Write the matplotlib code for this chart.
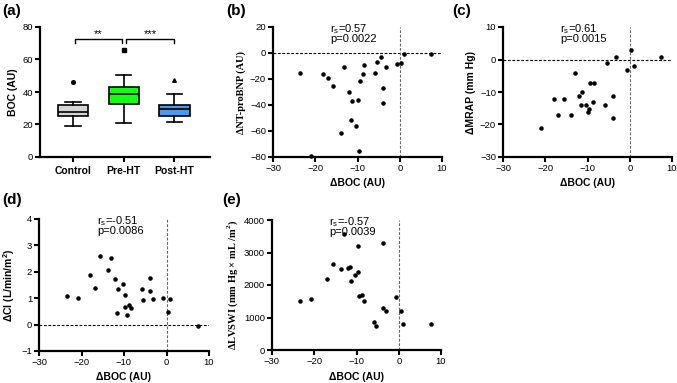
import matplotlib
matplotlib.use("Agg")
import matplotlib.pyplot as plt
import numpy as np

plt.rcParams['font.family'] = ['Liberation Sans', 'DejaVu Sans']
plt.rcParams['mathtext.fontset'] = 'custom'
plt.rcParams['mathtext.rm'] = 'Liberation Sans'

# ---- Panel (a) box plot data ----
groups = ["Control", "Pre-HT", "Post-HT"]
box_whislo = [19, 21, 21.5]
box_q1 = [25, 32.5, 25.5]
box_med = [27.5, 38.5, 29.5]
box_q3 = [32, 43, 32]
box_whishi = [34, 50.5, 39]
box_fliers = [[46], [66], [47.5]]
box_colors = ["#d4d4d4", "#14ff14", "#5197e8"]
flier_markers = ["o", "s", "^"]
sig_labels = ["**", "***"]

# ---- Scatter data (ΔBOC vs outcomes) ----
b_x = [-23.66, -21.05, -18.1, -17.1, -15.74, -13.13, -13.84, -11.94, -11.6, -11.4,
       -10.36, -9.88, -9.72, -9.4, -8.77, -8.46, -5.9, -5.45, -4.42, -3.94, -3.94,
       -3.23, -0.7, 0.26, 0.9, 7.4]
b_y = [-15.4, -79.5, -15.9, -19, -25.1, -10.8, -61.5, -30.3, -51.3, -36.9,
       -56.4, -36.4, -75.4, -21.3, -15.9, -9, -15.1, -6.7, -3.1, -26.7, -38.5,
       -11, -8.2, -7.9, -0.8, -0.5]

c_x = [-21, -18, -16.9, -15.6, -13.8, -13.0, -11.9, -11.5, -11.2, -10.4, -9.9, -9.6,
       -9.3, -8.8, -8.4, -5.8, -5.4, -3.9, -3.9, -3.2, -0.7, 0.3, 0.97, 7.5]
c_y = [-21.1, -12.05, -17.1, -12, -17.1, -4.05, -11.1, -14.1, -10.1, -14.1, -16.05, -15.1,
       -7.1, -13.1, -7.1, -14.1, -1.1, -11.1, -18.1, 0.9, -3.1, 2.9, -2.1, 0.9]

d_x = [-23.4, -20.8, -18.1, -16.8, -15.65, -13.76, -13.14, -12.04, -11.57, -11.4,
       -10.3, -9.84, -9.7, -9.37, -8.82, -8.35, -5.84, -5.45, -3.88, -3.88, -3.25,
       -0.75, 0.27, 0.9, 7.4]
d_y = [1.08, 1.02, 1.87, 1.37, 2.61, 2.06, 2.53, 1.74, 0.43, 1.34,
       1.53, 1.14, 0.65, 0.37, 0.73, 0.62, 1.34, 0.92, 1.77, 1.29, 0.97,
       1.02, 0.48, 0.97, -0.05]

e_x = [-23.44, -20.8, -16.96, -15.5, -13.64, -13.0, -11.9, -11.6, -11.34, -10.3,
       -9.76, -9.6, -9.37, -8.66, -8.26, -5.8, -5.34, -3.83, -3.83, -3.12, -0.6,
       0.43, 1.07, 7.6]
e_y = [1508, 1559, 2185, 2646, 2503, 3569, 2523, 2554, 2133, 2308,
       3210, 2400, 1651, 1682, 1497, 872, 749, 3282, 1302, 1200, 1620,
       1190, 790, 800]

stats_text = {
    "b": ("0.57", "0.0022"),
    "c": ("0.61", "0.0015"),
    "d": ("-0.51", "0.0086"),
    "e": ("-0.57", "0.0039"),
}

W, H = 677, 383
fig = plt.figure(figsize=(W / 100, H / 100), dpi=100)


def px_axes(x0, y0, x1, y1):
    return fig.add_axes([x0 / W, 1 - y1 / H, (x1 - x0) / W, (y1 - y0) / H])


def style(ax):
    for s in ("top", "right"):
        ax.spines[s].set_visible(False)
    for s in ("left", "bottom"):
        ax.spines[s].set_linewidth(1.6)
    ax.tick_params(axis="both", which="major", length=3.5, width=1.5,
                   labelsize=6.8, pad=1.5, color="black")


ax_a = px_axes(40, 27, 210, 157)
ax_b = px_axes(273, 27, 442, 157)
ax_c = px_axes(503, 27, 672, 157)
ax_d = px_axes(39, 219, 209, 351)
ax_e = px_axes(272, 220, 441, 350)

# ---- Panel a ----
stats = []
for i in range(3):
    stats.append(dict(med=box_med[i], q1=box_q1[i], q3=box_q3[i],
                      whislo=box_whislo[i], whishi=box_whishi[i],
                      fliers=box_fliers[i], label=groups[i]))
positions = [1, 2, 3]
bp = ax_a.bxp(stats, positions=positions, widths=0.6, patch_artist=True,
              showfliers=False,
              boxprops=dict(linewidth=1.2, edgecolor="black"),
              medianprops=dict(color="black", linewidth=1.2),
              whiskerprops=dict(linewidth=1.2),
              capprops=dict(linewidth=1.2))
for patch, col in zip(bp["boxes"], box_colors):
    patch.set_facecolor(col)
for i, pos in enumerate(positions):
    ax_a.plot([pos] * len(box_fliers[i]), box_fliers[i], linestyle="none",
              marker=flier_markers[i], markersize=2.6, color="black")
ax_a.set_xlim(0.35, 3.7)
ax_a.set_ylim(0, 80)
ax_a.set_yticks([0, 20, 40, 60, 80])
ax_a.set_xticks(positions)
ax_a.set_xticklabels(groups, fontweight="bold", fontsize=7.5)
ax_a.set_ylabel("BOC (AU)", fontweight="bold", fontsize=7.5, labelpad=3)
style(ax_a)
ax_a.tick_params(axis="x", labelsize=7.5, pad=3)
# significance brackets
for (p0, p1), lab in zip([(1.03, 1.97), (2.05, 3.0)], sig_labels):
    ax_a.plot([p0, p0, p1, p1], [70, 72.5, 72.5, 70], color="black", lw=1.0)
    ax_a.text((p0 + p1) / 2, 72.5, lab, ha="center", va="bottom", fontsize=8)

# ---- Scatter panels ----
def scatter_panel(ax, x, y, ylim, yticks, ylabel, key, serif=False):
    ax.axhline(0, color="black", linestyle=(0, (2.5, 1.5)), lw=0.8, zorder=1)
    ax.axvline(0, color="#666666", linestyle=(0, (2.5, 1.5)), lw=0.8, zorder=1)
    ax.scatter(x, y, s=5, color="black", zorder=3, clip_on=False)
    ax.set_xlim(-30, 10)
    ax.set_ylim(*ylim)
    ax.set_xticks([-30, -20, -10, 0, 10])
    ax.set_yticks(yticks)
    ax.set_xlabel("ΔBOC (AU)", fontweight="bold", fontsize=7.5, labelpad=4)
    if serif:
        ax.set_ylabel(ylabel, fontweight="bold", fontsize=7.5,
                      family=["Liberation Serif", "DejaVu Serif"], labelpad=3)
    else:
        ax.set_ylabel(ylabel, fontweight="bold", fontsize=7.5, labelpad=3)
    r, p = stats_text[key]
    ax.text(0.34, 1.04, "r$_\\mathregular{s}$=" + r + "\np=" + p,
            transform=ax.transAxes, ha="left", va="top", fontsize=8,
            linespacing=0.85)
    style(ax)


scatter_panel(ax_b, b_x, b_y, (-80, 20), [-80, -60, -40, -20, 0, 20],
              "ΔNT-proBNP (AU)", "b", serif=True)
scatter_panel(ax_c, c_x, c_y, (-30, 10), [-30, -20, -10, 0, 10],
              "ΔMRAP (mm Hg)", "c")
scatter_panel(ax_d, d_x, d_y, (-1, 4), [-1, 0, 1, 2, 3, 4],
              "ΔCI (L/min/m$^\\mathregular{2}$)", "d")
scatter_panel(ax_e, e_x, e_y, (0, 4000), [0, 1000, 2000, 3000, 4000],
              "ΔLVSWI (mm Hg × mL /m$^\\mathregular{2}$)", "e", serif=True)

# panel letters
for lab, (x, y) in zip(["(a)", "(b)", "(c)", "(d)", "(e)"],
                       [(2, 4), (226, 4), (452, 4), (2, 193), (222, 193)]):
    fig.text(x / W, 1 - y / H, lab, fontsize=11, fontweight="bold",
             ha="left", va="top")

fig.savefig("out.png", dpi=100)
